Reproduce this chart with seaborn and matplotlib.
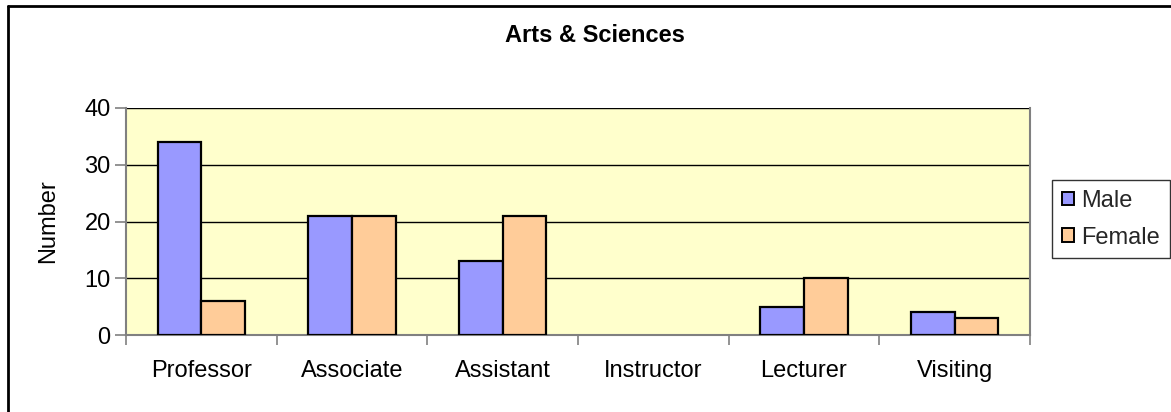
import matplotlib
matplotlib.use("Agg")
import matplotlib.pyplot as plt
import matplotlib.lines as mlines
import seaborn as sns
import pandas as pd
import numpy as np

# Faculty counts by rank
ranks = ["Professor", "Associate", "Assistant", "Instructor", "Lecturer", "Visiting"]
male = [34, 21, 13, 0, 5, 4]
female = [6, 21, 21, 0, 10, 3]
genders = ["Male", "Female"]
y_ticks = [0, 10, 20, 30, 40]

df = pd.DataFrame({
    "Rank": ranks * 2,
    "Gender": [genders[0]] * len(ranks) + [genders[1]] * len(ranks),
    "Number": male + female,
})

sns.set_theme(style="white")
plt.rcParams["font.family"] = ["Liberation Sans", "DejaVu Sans"]

FS = 17
W, H = 1171, 412
fig = plt.figure(figsize=(W / 100, H / 100), dpi=100)
fig.patch.set_facecolor("white")

# plot area in pixel bounds
x0, x1, ytop, ybot = 126, 1030, 108, 335
ax = fig.add_axes([x0 / W, 1 - ybot / H, (x1 - x0) / W, (ybot - ytop) / H])
ax.set_facecolor("#FFFFCC")

palette = {"Male": "#9999FF", "Female": "#FFCC99"}
sns.barplot(data=df, x="Rank", y="Number", hue="Gender", order=ranks,
            hue_order=genders, palette=palette, width=0.58, dodge=True,
            saturation=1, edgecolor="black", linewidth=1.6, errorbar=None,
            ax=ax, zorder=3)

# empty bars leave no outline
for p in ax.patches:
    if p.get_height() == 0:
        p.set_linewidth(0)

ax.set_xlim(-0.5, len(ranks) - 0.5)
ax.set_ylim(0, 40)
ax.set_yticks(y_ticks)
ax.yaxis.grid(True, color="black", linewidth=1.0, zorder=1)
ax.set_axisbelow(True)

gray = "#808080"
ax.spines["top"].set_visible(False)
for side in ["left", "bottom", "right"]:
    ax.spines[side].set_color(gray)
    ax.spines[side].set_linewidth(1.5)

ax.tick_params(axis="y", which="major", length=8, width=1.2, color=gray,
               labelsize=FS, pad=3, labelcolor="black", left=True)
# category labels centred, boundary ticks as minor ticks
ax.set_xticks(np.arange(len(ranks)))
ax.set_xticklabels(ranks)
ax.set_xticks(np.arange(-0.5, len(ranks)), minor=True)
ax.tick_params(axis="x", which="major", length=0, labelsize=FS, pad=18,
               labelcolor="black")
ax.tick_params(axis="x", which="minor", length=7, width=1.2, color=gray,
               bottom=True)

ax.set_xlabel("")
ax.set_ylabel("Number", fontsize=FS, color="black")
ax.yaxis.set_label_coords((59 - x0) / (x1 - x0), 0.5)

fig.text(595 / W, 1 - 35 / H, "Arts & Sciences", ha="center", va="center",
         fontsize=FS, fontweight="bold", color="black")

# legend
ax.get_legend().remove()
handles = [plt.Rectangle((0, 0), 1, 1, facecolor=palette[g], edgecolor="black",
                         linewidth=1.4) for g in genders]
leg = fig.legend(handles, genders, loc="upper left",
                 bbox_to_anchor=(1052 / W, 1 - 180 / H),
                 bbox_transform=fig.transFigure, borderaxespad=0,
                 fontsize=FS, frameon=True, fancybox=False, edgecolor="black",
                 handlelength=0.52, handleheight=0.52, handletextpad=0.3,
                 labelspacing=0.62, borderpad=0.42)
leg.get_frame().set_linewidth(1.0)

# chart border (top and left edges)
fig.add_artist(mlines.Line2D([8 / W, 1.0], [1 - 6 / H, 1 - 6 / H],
                             color="black", linewidth=2,
                             transform=fig.transFigure))
fig.add_artist(mlines.Line2D([8 / W, 8 / W], [1 - 6 / H, 0.0],
                             color="black", linewidth=2,
                             transform=fig.transFigure))

fig.savefig("out.png", dpi=100, facecolor="white")
